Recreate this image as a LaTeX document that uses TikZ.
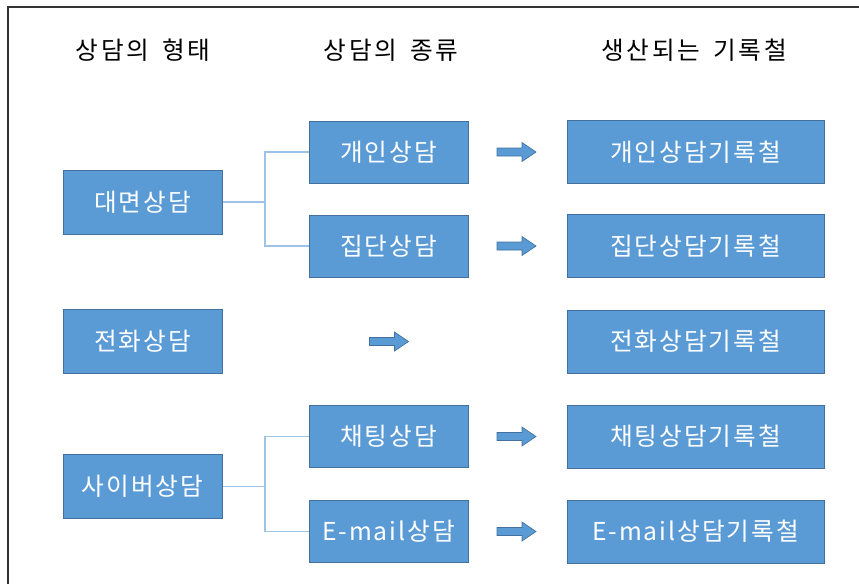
\documentclass[tikz,border=0pt]{standalone}
\usepackage{fontspec}
\newfontfamily\kr[LetterSpace=8]{Noto Sans CJK KR}
\newfontfamily\krh[LetterSpace=11,WordSpace=1.6]{Noto Sans CJK KR}
\definecolor{boxfill}{HTML}{5B9BD5}
\definecolor{boxline}{HTML}{41719C}
\definecolor{connline}{HTML}{9DC3E6}
\definecolor{framecol}{HTML}{333333}
\begin{document}
\begin{tikzpicture}[x=0.75pt,y=-0.75pt,
  every node/.style={font=\kr\fontsize{18.5}{21}\selectfont},
  header/.style={text=black,font=\krh\fontsize{18.5}{21}\selectfont},
  box/.style={draw=boxline,line width=0.75pt,fill=boxfill,text=white,inner sep=0pt,minimum width=119.25pt,minimum height=47.25pt},
  leftbox/.style={box,minimum height=48pt},
  midbox/.style={box,minimum height=46.5pt},
  rightbox/.style={box,minimum width=192.75pt},
  conn/.style={draw=connline,line width=1.1pt},
  arrowstyle/.style={fill=boxfill,draw=boxline,line width=0.5pt},
  blockarrow/.pic={\path[arrowstyle] (-19.5,-4) -- (5.5,-4) -- (5.5,-9.5) -- (19.5,0) -- (5.5,9.5) -- (5.5,4) -- (-19.5,4) -- cycle;}
]
\useasboundingbox (0,0) rectangle (859,583);
\draw[framecol,line width=1.6pt] (8,590) -- (8,7) -- (870,7);

\node[header] (h1) at (143,50) {상담의 형태};
\node[header] (h2) at (391,50) {상담의 종류};
\node[header] (h3) at (694,50) {생산되는 기록철};

\node[leftbox] (daemyeon) at (142.5,202) {대면상담};
\node[leftbox] (jeonhwa) at (142.5,341.5) {전화상담};
\node[leftbox] (saibeo) at (142.5,486.5) {사이버상담};

\node[midbox] (gaein) at (388.5,152) {개인상담};
\node[midbox] (jibdan) at (388.5,246) {집단상담};
\node[midbox] (chaeting) at (388.5,436.5) {채팅상담};
\node[midbox] (email) at (388.5,531.5) {E-mail상담};

\node[rightbox] (rgaein) at (695.5,152) {개인상담기록철};
\node[rightbox] (rjibdan) at (695.5,246) {집단상담기록철};
\node[rightbox] (rjeonhwa) at (695.5,341.5) {전화상담기록철};
\node[rightbox] (rchaeting) at (695.5,436.5) {채팅상담기록철};
\node[rightbox] (remail) at (695.5,531.5) {E-mail상담기록철};

\coordinate (j1) at (265,202);
\coordinate (j2) at (265,486.5);
\draw[conn] (daemyeon.east) -- (j1);
\draw[conn] (j1) |- (gaein.west);
\draw[conn] (j1) |- (jibdan.west);
\draw[conn] (saibeo.east) -- (j2);
\draw[conn] (j2) |- (chaeting.west);
\draw[conn] (j2) |- (email.west);

\pic at (516.5,152) {blockarrow};
\pic at (516.5,246) {blockarrow};
\pic at (389,341.5) {blockarrow};
\pic at (516.5,436.5) {blockarrow};
\pic at (516.5,531.5) {blockarrow};
\end{tikzpicture}
\end{document}
